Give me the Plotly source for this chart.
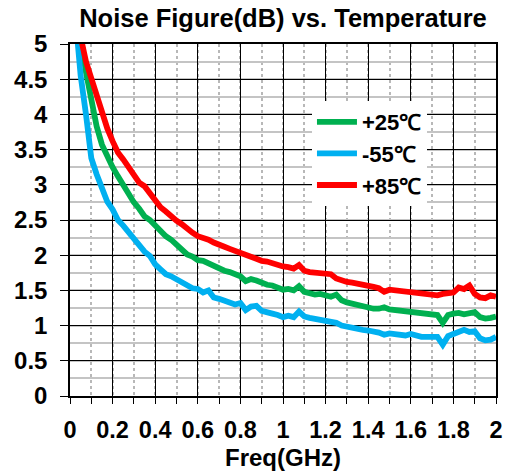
import plotly.graph_objects as go

freq = [0.025, 0.05, 0.075, 0.1, 0.125, 0.15, 0.175, 0.2, 0.225, 0.25,
        0.275, 0.3, 0.325, 0.35, 0.375, 0.4, 0.425, 0.45, 0.475, 0.5,
        0.525, 0.55, 0.575, 0.6, 0.625, 0.65, 0.675, 0.7, 0.725, 0.75,
        0.775, 0.8, 0.825, 0.85, 0.875, 0.9, 0.925, 0.95, 0.975, 1.0,
        1.025, 1.05, 1.075, 1.1, 1.125, 1.15, 1.175, 1.2, 1.225, 1.25,
        1.275, 1.3, 1.325, 1.35, 1.375, 1.4, 1.425, 1.45, 1.475, 1.5,
        1.525, 1.55, 1.575, 1.6, 1.625, 1.65, 1.675, 1.7, 1.725, 1.75,
        1.775, 1.8, 1.825, 1.85, 1.875, 1.9, 1.925, 1.95, 1.975, 2.0]

nf_p25 = [6.0, 5.1, 4.6, 4.2, 3.83, 3.57, 3.4, 3.25, 3.12, 3.0,
          2.85, 2.75, 2.66, 2.55, 2.5, 2.42, 2.35, 2.27, 2.22, 2.14,
          2.08, 2.01, 1.98, 1.93, 1.92, 1.88, 1.84, 1.81, 1.78, 1.76,
          1.72, 1.7, 1.63, 1.66, 1.64, 1.6, 1.58, 1.57, 1.53, 1.51,
          1.52, 1.5, 1.56, 1.48, 1.46, 1.44, 1.45, 1.42, 1.41, 1.44,
          1.36, 1.33, 1.31, 1.29, 1.27, 1.25, 1.24, 1.24, 1.26, 1.23,
          1.22, 1.21, 1.2, 1.18, 1.18, 1.17, 1.16, 1.16, 1.15, 1.04,
          1.15, 1.17, 1.18, 1.16, 1.17, 1.19, 1.12, 1.1, 1.11, 1.13]

nf_m55 = [5.4, 4.55, 4.0, 3.38, 3.15, 2.97, 2.76, 2.65, 2.5, 2.42,
          2.32, 2.24, 2.14, 2.05, 1.99, 1.87, 1.8, 1.73, 1.7, 1.66,
          1.61, 1.57, 1.53, 1.52, 1.47, 1.5, 1.4, 1.38, 1.36, 1.34,
          1.3, 1.32, 1.22, 1.27, 1.28, 1.21, 1.2, 1.17, 1.15, 1.12,
          1.14, 1.12, 1.2, 1.13, 1.11, 1.1, 1.08, 1.06, 1.07, 1.04,
          1.0, 0.98, 0.97, 0.95, 0.94, 0.93, 0.92, 0.9, 0.87, 0.89,
          0.88, 0.87, 0.86, 0.88, 0.85, 0.84, 0.84, 0.83, 0.84, 0.73,
          0.85, 0.88, 0.91, 0.94, 0.91, 0.92, 0.82, 0.79, 0.8, 0.84]

nf_p85 = [6.0, 5.1, 4.75, 4.5, 4.25, 4.0, 3.8, 3.62, 3.46, 3.36,
          3.25, 3.15, 3.03, 2.98, 2.88, 2.78, 2.68, 2.62, 2.55, 2.49,
          2.44, 2.37, 2.32, 2.27, 2.25, 2.22, 2.18, 2.14, 2.12, 2.09,
          2.06, 2.03, 1.99, 1.98, 1.95, 1.92, 1.91, 1.88, 1.86, 1.84,
          1.83, 1.81, 1.86, 1.78, 1.76, 1.75, 1.75, 1.72, 1.73, 1.67,
          1.64, 1.62, 1.61, 1.6, 1.58, 1.57, 1.55, 1.53, 1.48, 1.51,
          1.5, 1.5, 1.49, 1.48, 1.47, 1.46, 1.45, 1.44, 1.43, 1.45,
          1.46, 1.47, 1.54, 1.52, 1.57, 1.45, 1.4, 1.39, 1.43, 1.41]

series = [
    ("+25℃", nf_p25, "#00B050"),
    ("-55℃", nf_m55, "#00B0F0"),
    ("+85℃", nf_p85, "#FF0000"),
]

xticks = [0, 0.2, 0.4, 0.6, 0.8, 1, 1.2, 1.4, 1.6, 1.8, 2]
xticklabels = ["0", "0.2", "0.4", "0.6", "0.8", "1", "1.2", "1.4", "1.6", "1.8", "2"]
yticks = [0, 0.5, 1, 1.5, 2, 2.5, 3, 3.5, 4, 4.5, 5]
yticklabels = ["0", "0.5", "1", "1.5", "2", "2.5", "3", "3.5", "4", "4.5", "5"]

FONT = "Liberation Sans, Arial, sans-serif"

fig = go.Figure()
for name, vals, color in series:
    fig.add_trace(go.Scatter(x=freq, y=vals, mode="lines", name=name,
                             line=dict(color=color, width=5.8)))

fig.update_layout(
    width=512, height=476,
    margin=dict(l=70, r=9, t=44, b=77),
    paper_bgcolor="white", plot_bgcolor="white",
    title=dict(text="Noise Figure(dB) vs. Temperature", x=0.5, xref="paper",
               y=0.961, yref="container", xanchor="center", yanchor="middle",
               font=dict(family=FONT, size=25.5, color="black", weight="bold")),
    font=dict(family=FONT, color="black", weight="bold"),
    showlegend=True,
    legend=dict(x=0.568, y=0.838, xanchor="left", yanchor="top",
                bgcolor="white", borderwidth=0,
                font=dict(family=FONT, size=22, color="black", weight="bold"),
                itemwidth=40, tracegroupgap=0),
)

fig.update_xaxes(
    range=[0, 2], tickvals=xticks, ticktext=xticklabels,
    showgrid=True, gridcolor="black", gridwidth=1.2,
    showline=True, linecolor="black", linewidth=1.5, mirror=True,
    ticks="outside", ticklen=6, tickcolor="black", tickwidth=1.2,
    tickfont=dict(family=FONT, size=23.5, color="black", weight="bold"),
    ticklabelstandoff=6,
    zeroline=False,
    minor=dict(dtick=0.1, showgrid=True, gridcolor="#b8b8b8", griddash="dot",
               gridwidth=1.5, ticks="outside", ticklen=6, tickcolor="black",
               tickwidth=1.2),
    title=dict(text="Freq(GHz)", standoff=7,
               font=dict(family=FONT, size=24, color="black", weight="bold")),
)

fig.update_yaxes(
    range=[0, 5], tickvals=yticks, ticktext=yticklabels,
    showgrid=True, gridcolor="black", gridwidth=1.2,
    showline=True, linecolor="black", linewidth=1.5, mirror=True,
    ticks="outside", ticklen=8, tickcolor="black", tickwidth=1.2,
    tickfont=dict(family=FONT, size=24, color="black", weight="bold"),
    ticklabelstandoff=8,
    zeroline=False,
    minor=dict(dtick=0.25, showgrid=True, gridcolor="#c4c4c4", gridwidth=1.5,
               ticks=""),
)

# remove the browser's default 8px page margin so the figure fills the window
fig.write_html("out.html", config={"displayModeBar": False},
               post_script="document.body.style.margin='0';")
